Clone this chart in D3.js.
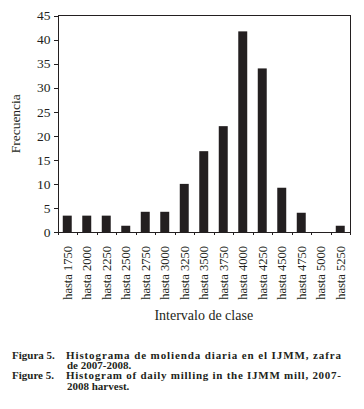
<!DOCTYPE html>
<html>
<head>
<meta charset="utf-8">
<script src="https://cdn.jsdelivr.net/npm/d3@7"></script>
<style>
body { margin: 0; background: #fff; }
svg text { font-family: "Liberation Serif", "DejaVu Serif", serif; fill: #231f20; }
.axis path, .axis line { stroke: #231f20; shape-rendering: crispEdges; }
</style>
</head>
<body>
<div id="graph"></div>
<script>
// class limits and counts
let categories = ["hasta 1750","hasta 2000","hasta 2250","hasta 2500","hasta 2750","hasta 3000","hasta 3250",
	"hasta 3500","hasta 3750","hasta 4000","hasta 4250","hasta 4500","hasta 4750","hasta 5000","hasta 5250"];
let frecuencia = [3.4, 3.4, 3.4, 1.3, 4.2, 4.2, 10, 16.8, 22, 41.7, 34, 9.2, 4, 0, 1.3];
let yTicks = [0,5,10,15,20,25,30,35,40,45];
let captionEs = ["Figura 5.", "Histograma de molienda diaria en el IJMM, zafra", "de 2007-2008."];
let captionEn = ["Figure 5.", "Histogram of daily milling in the IJMM mill, 2007-", "2008 harvest."];

let width = 364, height = 409;
let padding = {left: 57.5, top: 15.5, right: 14, bottom: 177};

let graph = d3.select("div#graph")
	.append("svg")
	.attr("width", width)
	.attr("height", height);

let plotW = width - padding.left - padding.right;
let plotH = height - padding.top - padding.bottom;

let xScale = d3.scaleBand()
	.domain(categories)
	.range([padding.left, padding.left + plotW])
	.paddingInner(0.54)
	.paddingOuter(0.27);

let xEdge = d3.scaleLinear()
	.domain([0, categories.length])
	.range([padding.left, padding.left + plotW]);

let yScale = d3.scaleLinear()
	.domain([0, 45])
	.range([padding.top + plotH, padding.top]);

// frame top and right
graph.append("path")
	.attr("d", `M${padding.left},${padding.top}H${padding.left + plotW}V${padding.top + plotH}`)
	.attr("fill", "none")
	.attr("stroke", "#231f20")
	.attr("shape-rendering", "crispEdges");

graph.selectAll("rect.bar")
	.data(frecuencia)
	.enter()
	.append("rect")
	.attr("class", "bar")
	.attr("x", (d, i) => xScale(categories[i]))
	.attr("width", xScale.bandwidth())
	.attr("y", d => yScale(d))
	.attr("height", d => yScale(0) - yScale(d))
	.attr("fill", "#231f20");

// y axis
graph.append("g")
	.attr("class", "y axis")
	.attr("transform", `translate(${padding.left}, 0)`)
	.call(d3.axisLeft(yScale).tickValues(yTicks).tickSize(4).tickPadding(3).tickSizeOuter(0))
	.selectAll("text")
	.style("font-size", "13.5px")
	.style("font-family", "Liberation Serif");

// x axis boundary ticks
graph.append("g")
	.attr("class", "x axis")
	.attr("transform", `translate(0, ${padding.top + plotH})`)
	.call(d3.axisBottom(xEdge).tickValues(d3.range(categories.length + 1)).tickFormat("").tickSize(3).tickSizeOuter(0));

// x axis labels
graph.append("g")
	.attr("class", "x labels")
	.attr("transform", `translate(0, ${padding.top + plotH})`)
	.call(d3.axisBottom(xScale).tickSize(0))
	.call(g => g.select(".domain").remove())
	.selectAll("text")
	.style("font-size", "12.5px")
	.style("font-family", "Liberation Serif")
	.style("text-anchor", "end")
	.attr("transform", "rotate(-90)")
	.attr("x", -14)
	.attr("y", 0)
	.attr("dy", "0.35em");

graph.append("text")
	.attr("x", padding.left + plotW / 2)
	.attr("y", 320)
	.attr("text-anchor", "middle")
	.style("font-size", "14px")
	.text("Intervalo de clase");

graph.append("text")
	.attr("transform", `translate(20, ${padding.top + plotH / 2}) rotate(-90)`)
	.attr("text-anchor", "middle")
	.style("font-size", "13.5px")
	.text("Frecuencia");

// caption
function caption(lines, y0) {
	let g = graph.append("g").style("font-weight", "bold").style("font-size", "11px");
	g.append("text").attr("x", 12).attr("y", y0).text(lines[0]);
	g.append("text").attr("x", 66).attr("y", y0)
		.attr("textLength", 275).attr("lengthAdjust", "spacing").text(lines[1]);
	g.append("text").attr("x", 67).attr("y", y0 + 10.2).text(lines[2]);
}
caption(captionEs, 358.5);
caption(captionEn, 379.3);
</script>
</body>
</html>
